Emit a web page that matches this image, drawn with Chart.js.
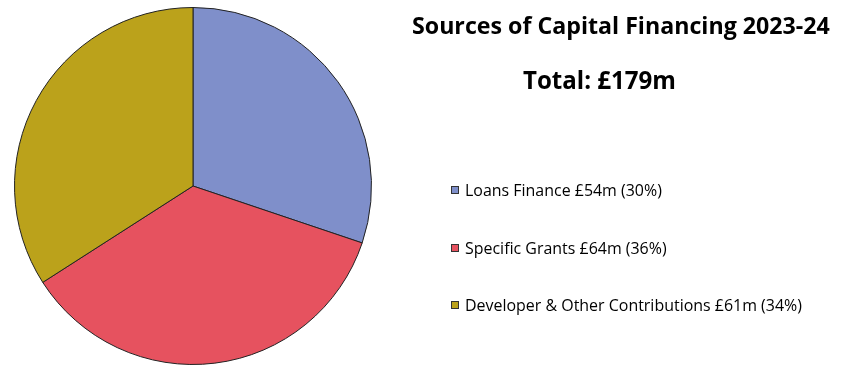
<!DOCTYPE html>
<html>
<head>
<meta charset="utf-8">
<script src="https://cdn.jsdelivr.net/npm/chart.js@4.4.1/dist/chart.umd.min.js"></script>
<style>
  html, body { margin: 0; padding: 0; background: #fff; }
  #wrap { width: 843px; height: 365px; position: relative; }
</style>
</head>
<body>
<div id="wrap"><canvas id="myChart" width="843" height="365"></canvas></div>
<script>
const chartTitle = "Sources of Capital Financing 2023-24";
const totalLabel = "Total: £179m";
const categories = ["Loans Finance", "Specific Grants", "Developer & Other Contributions"];
const amounts = [54, 64, 61];
const percents = [30, 36, 34];
const colours = ["#7f8fca", "#e6525f", "#bba21b"];

const fontFamily = "'Open Sans', Lato, sans-serif";

// pick a font size so the text fills the given width
function fitFont(ctx, text, weight, width) {
    ctx.font = `${weight} 20px ${fontFamily}`;
    const size = 20 * width / ctx.measureText(text).width;
    return `${weight} ${size.toFixed(2)}px ${fontFamily}`;
}

// title, total and the legend sit to the right of the pie
const sidePanel = {
    id: 'sidePanel',
    afterDraw(chart) {
        const ctx = chart.ctx;
        ctx.save();
        ctx.fillStyle = '#000';
        ctx.textBaseline = 'middle';
        ctx.textAlign = 'left';
        ctx.font = fitFont(ctx, chartTitle, 'bold', 418);
        ctx.fillText(chartTitle, 412, 27);
        ctx.font = fitFont(ctx, totalLabel, 'bold', 153);
        ctx.fillText(totalLabel, 523, 82);

        const labels = categories.map((name, i) => `${name} £${amounts[i]}m (${percents[i]}%)`);
        ctx.font = fitFont(ctx, labels[2], 'normal', 337);
        const rows = [190, 248, 305];
        labels.forEach((text, i) => {
            const y = rows[i];
            ctx.fillStyle = colours[i];
            ctx.fillRect(451, y - 4, 8, 8);
            ctx.strokeStyle = '#333';
            ctx.lineWidth = 1;
            ctx.strokeRect(451.5, y - 3.5, 7, 7);
            ctx.fillStyle = '#000';
            ctx.fillText(text, 465, y + 1);
        });
        ctx.restore();
    }
};

const ctx = document.getElementById('myChart').getContext('2d');
const myChart = new Chart(ctx, {
    type: 'pie',
    data: {
        labels: categories,
        datasets: [{
            data: amounts,
            backgroundColor: colours,
            borderColor: '#222',
            borderWidth: 1
        }]
    },
    options: {
        responsive: false,
        animation: false,
        layout: {
            padding: { left: 14, right: 471, top: 7, bottom: 0 }
        },
        plugins: {
            legend: { display: false },
            tooltip: { enabled: false }
        }
    },
    plugins: [sidePanel]
});
</script>
</body>
</html>
